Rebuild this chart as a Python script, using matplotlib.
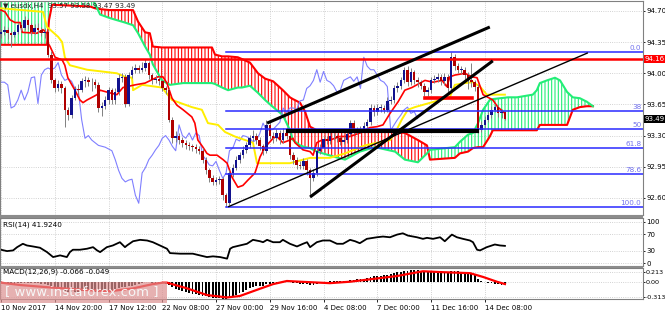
# eusdx H4 chart with ichimoku, fibo levels, RSI and MACD panels
import numpy as np
import matplotlib
matplotlib.use("Agg")
import matplotlib.pyplot as plt
import matplotlib.transforms as mtransforms
from matplotlib.patches import Rectangle

plt.rcParams['font.family'] = 'DejaVu Sans'
plt.rcParams['hatch.linewidth'] = 0.8

# ---------- DATA ------------
first_open = 94.44
close = [94.46, 94.49, 94.45, 94.43, 94.46, 94.54, 94.51, 94.60, 94.54, 94.46,
         94.51, 94.49, 94.45, 94.46, 94.21, 93.92, 93.83, 93.88, 93.83, 93.59,
         93.53, 93.72, 93.82, 93.81, 93.91, 93.92, 93.90, 93.90, 93.87, 93.61,
         93.63, 93.70, 93.81, 93.70, 93.79, 93.95, 93.96, 93.66, 93.98, 94.04,
         94.06, 94.04, 94.06, 94.12, 93.98, 93.92, 93.94, 93.91, 93.83, 93.81,
         93.48, 93.27, 93.30, 93.25, 93.22, 93.19, 93.18, 93.17, 93.15, 93.13,
         93.03, 92.91, 92.82, 92.78, 92.80, 92.81, 92.63, 92.54, 92.88, 92.94,
         93.03, 93.08, 93.14, 93.19, 93.27, 93.30, 93.25, 93.18, 93.13, 93.42,
         93.30, 93.27, 93.33, 93.25, 93.33, 93.30, 93.08, 93.03, 92.97, 92.96,
         93.01, 92.91, 92.82, 92.88, 93.13, 93.16, 93.26, 93.24, 93.30, 93.29,
         93.27, 93.23, 93.25, 93.32, 93.44, 93.36, 93.36, 93.37, 93.41, 93.45,
         93.61, 93.56, 93.61, 93.61, 93.59, 93.69, 93.70, 93.83, 93.86, 93.92,
         94.04, 93.90, 94.02, 93.92, 93.90, 93.86, 93.79, 93.81, 93.92, 93.94,
         93.96, 93.91, 93.96, 93.83, 94.18, 94.08, 94.04, 94.04, 93.98, 93.92,
         93.90, 93.85, 93.36, 93.42, 93.48, 93.53, 93.59, 93.62, 93.55, 93.57,
         93.49]
high = [94.50, 94.53, 94.52, 94.48, 94.49, 94.57, 94.58, 94.64, 94.62, 94.56,
        94.55, 94.56, 94.52, 94.51, 94.50, 94.25, 93.95, 93.92, 93.91, 93.86,
        93.62, 93.76, 93.86, 93.88, 93.95, 93.97, 93.96, 93.95, 93.94, 93.90,
        93.68, 93.74, 93.85, 93.84, 93.83, 93.99, 94.00, 93.99, 94.01, 94.08,
        94.10, 94.09, 94.13, 94.16, 94.14, 94.00, 93.98, 93.97, 93.93, 93.86,
        93.84, 93.51, 93.35, 93.33, 93.28, 93.25, 93.23, 93.21, 93.20, 93.18,
        93.16, 93.06, 92.94, 92.86, 92.84, 92.85, 92.84, 92.66, 92.91, 92.98,
        93.07, 93.12, 93.18, 93.23, 93.31, 93.36, 93.33, 93.28, 93.21, 93.47,
        93.45, 93.34, 93.37, 93.36, 93.38, 93.40, 93.33, 93.12, 93.06, 93.01,
        93.05, 93.04, 92.94, 92.92, 93.16, 93.20, 93.30, 93.29, 93.34, 93.33,
        93.32, 93.30, 93.29, 93.36, 93.48, 93.47, 93.40, 93.41, 93.45, 93.49,
        93.66, 93.64, 93.65, 93.65, 93.64, 93.73, 93.75, 93.87, 93.90, 93.96,
        94.07, 94.08, 94.06, 94.04, 93.96, 93.93, 93.89, 93.85, 93.96, 93.98,
        94.00, 93.99, 94.00, 93.99, 94.24, 94.22, 94.11, 94.08, 94.07, 94.02,
        94.12, 93.93, 93.88, 93.46, 93.52, 93.57, 93.63, 93.66, 93.64, 93.60,
        93.58]
low = [94.40, 94.43, 94.38, 94.30, 94.41, 94.44, 94.48, 94.49, 94.50, 94.43,
       94.44, 94.45, 94.42, 94.40, 94.18, 93.89, 93.79, 93.80, 93.78, 93.40,
       93.48, 93.50, 93.70, 93.76, 93.79, 93.85, 93.86, 93.80, 93.83, 93.56,
       93.52, 93.60, 93.66, 93.65, 93.66, 93.76, 93.90, 93.62, 93.63, 93.95,
       94.00, 94.00, 94.01, 94.03, 93.94, 93.88, 93.89, 93.87, 93.80, 93.77,
       93.45, 93.22, 93.23, 93.20, 93.17, 93.15, 93.14, 93.13, 93.11, 93.09,
       92.99, 92.87, 92.78, 92.74, 92.75, 92.76, 92.58, 92.50, 92.52, 92.84,
       92.91, 92.99, 93.05, 93.10, 93.16, 93.24, 93.20, 93.14, 93.08, 93.10,
       93.26, 93.22, 93.24, 93.21, 93.22, 93.26, 93.04, 92.98, 92.93, 92.92,
       92.93, 92.86, 92.61, 92.79, 92.85, 93.09, 93.12, 93.20, 93.21, 93.25,
       93.23, 93.19, 93.20, 93.22, 93.29, 93.32, 93.32, 93.33, 93.34, 93.38,
       93.42, 93.52, 93.53, 93.57, 93.55, 93.56, 93.65, 93.67, 93.79, 93.82,
       93.89, 93.86, 93.87, 93.88, 93.85, 93.82, 93.74, 93.75, 93.78, 93.89,
       93.90, 93.87, 93.87, 93.78, 93.80, 94.04, 94.00, 93.99, 93.94, 93.82,
       93.85, 93.80, 93.33, 93.34, 93.39, 93.45, 93.50, 93.56, 93.51, 93.50,
       93.47]

# ichimoku lines, vertices as (bar, price)
tenkan_bar = [0, 1.2, 2.7, 4.2, 5.7, 6.3, 10.7, 12.5, 13.7, 14.0, 14.6, 16.1, 18.2, 19.0, 19.9,
              21.1, 22.0, 23.5, 24.4, 25.6, 28.6, 29.5, 32.4, 34.5, 36.3, 39.9, 42.9, 46.7,
              48.2, 49.4, 50.9, 52.4, 54.2, 56.8, 57.7, 58.6, 60.1, 61.3, 62.2, 64.3, 66.1,
              67.3, 68.8, 70.5, 72.0, 73.5, 75.6, 76.2, 77.1, 78.6, 81.0, 82.1, 83.9, 86.0,
              86.9, 87.5, 89.9, 92.0, 92.9, 94.0, 95.5, 97.9, 100.9, 103.9, 106.8, 109.8,
              111.9, 113.7, 115.8, 118.2, 120.2, 122.3, 126.2, 128.6, 131.3, 132.7, 133.6,
              135.1, 138.1, 140.2, 141.7, 143.5, 146.4, 147.9, 150.0]
tenkan = [94.71, 94.69, 94.60, 94.57, 94.57, 94.46, 94.45, 94.49, 94.45, 94.34, 94.30, 94.18,
          94.15, 94.09, 93.95, 93.87, 93.81, 93.70, 93.67, 93.70, 93.76, 93.81, 93.78, 93.76,
          93.84, 93.87, 93.89, 93.96, 93.96, 93.89, 93.72, 93.64, 93.59, 93.51, 93.44, 93.25,
          93.17, 93.10, 93.08, 93.08, 93.03, 92.99, 92.83, 92.72, 92.74, 92.80, 92.88, 92.95,
          93.06, 93.17, 93.27, 93.29, 93.22, 93.25, 93.27, 93.22, 93.14, 93.12, 93.08, 93.22,
          93.25, 93.25, 93.29, 93.29, 93.33, 93.39, 93.40, 93.42, 93.55, 93.68, 93.81, 93.84,
          93.92, 93.90, 93.92, 93.85, 93.96, 93.98, 94.00, 93.96, 93.95, 93.76, 93.70, 93.62,
          93.55]
kijun_bar = [0, 12.5, 13.7, 15.5, 17.0, 18.2, 19.0, 20.5, 25.6, 34.5, 36.9, 39.0, 39.3, 42.0,
             47.9, 50.9, 56.8, 59.8, 61.6, 64.6, 66.7, 69.6, 75.0, 76.2, 86.0, 92.0, 97.9,
             102.4, 108.3, 115.8, 117.3, 119.3, 121.1, 123.2, 130.7, 133.6, 135.1, 138.1,
             140.5, 142.6, 144.6, 150.0]
kijun = [94.73, 94.69, 94.52, 94.46, 94.41, 94.35, 94.18, 94.09, 94.04, 94.00, 93.96, 93.95,
         93.81, 93.87, 93.84, 93.70, 93.62, 93.59, 93.44, 93.42, 93.34, 93.29, 93.22, 92.99,
         92.99, 93.05, 93.05, 93.10, 93.19, 93.25, 93.33, 93.48, 93.59, 93.62, 93.70, 93.73,
         93.87, 93.89, 93.90, 93.85, 93.76, 93.76]
cloud_bar = [-1, 13.7, 14.3, 15.2, 26.5, 28.0, 29.5, 32.4, 36.9, 39.3, 40.8, 42.9, 44.3, 45.2,
             47.9, 50.3, 54.2, 62.8, 63.7, 65.8, 67.6, 70.5, 71.7, 74.1, 76.5, 78.6, 81.0,
             83.9, 86.0, 86.9, 89.0, 90.5, 92.0, 94.0, 99.4, 102.4, 106.8, 111.3, 117.3,
             120.2, 124.1, 126.8, 127.7, 135.1, 136.6, 139.0, 140.5, 142.0, 143.5, 145.5,
             146.4, 150.9, 153.6, 158.3, 159.5, 160.4, 162.5, 164.9, 166.4, 168.5, 170.2,
             172.3, 174.4, 176.2]
span_a = [94.88, 94.88, 94.88, 94.88, 94.88, 94.78, 94.66, 94.62, 94.57, 94.54, 94.45, 94.30,
          94.21, 94.10, 93.92, 93.87, 93.89, 93.89, 93.88, 93.84, 93.81, 93.84, 93.84, 93.86,
          93.78, 93.70, 93.62, 93.53, 93.36, 93.25, 93.19, 93.17, 93.16, 93.12, 93.06, 93.03,
          93.12, 93.17, 93.12, 93.03, 93.00, 93.10, 93.14, 93.17, 93.23, 93.31, 93.33, 93.44,
          93.59, 93.70, 93.71, 93.73, 93.73, 93.76, 93.81, 93.89, 93.92, 93.95, 93.92, 93.79,
          93.73, 93.72, 93.68, 93.63]
span_b = [94.32, 94.32, 94.60, 94.77, 94.75, 94.73, 94.72, 94.71, 94.71, 94.71, 94.58, 94.46,
          94.45, 94.30, 94.29, 94.29, 94.29, 94.29, 94.21, 94.19, 94.19, 94.18, 94.16, 94.12,
          94.00, 93.94, 93.91, 93.81, 93.73, 93.71, 93.67, 93.57, 93.40, 93.36, 93.36, 93.36,
          93.36, 93.36, 93.34, 93.33, 93.25, 93.19, 93.03, 93.05, 93.10, 93.12, 93.16, 93.17,
          93.17, 93.29, 93.36, 93.36, 93.36, 93.36, 93.36, 93.42, 93.42, 93.42, 93.42, 93.42,
          93.59, 93.62, 93.63, 93.63]
chikou_shift = 26

# drawn objects
fib_start = 67
fib_levels = [94.24, 93.575, 93.37, 93.165, 92.87, 92.50]
fib_names = ["0.0", "38", "50", "61.8", "78.6", "100.0"]
level_red = 94.16
support_bars = [85.4, 141.7]
support_price = 93.35
red_zone_bars = [126.2, 140.2]
red_zone_price = 93.72
trend_bars = [(79.2, 145.5), (92.0, 146.4), (67.6, 174.7)]
trend_prices = [(93.44, 94.52), (92.61, 94.14), (92.50, 94.23)]
trend_widths = [2.2, 2.2, 1.0]

price_ticks = [94.70, 94.35, 94.00, 93.65, 93.30, 92.95, 92.60]
last_price = 93.49

# RSI (bar, value)
rsi_bar = [0, 1.8, 3.6, 4.8, 6.5, 7.7, 9.5, 11.6, 13.7, 15.5, 17.6, 19.6, 20.5, 21.4, 23.5,
           25.6, 27.4, 28.6, 29.5, 31.5, 33.3, 35.4, 36.9, 37.5, 39.3, 41.4, 43.5, 45.2, 47.3,
           49.4, 50.3, 53.3, 57.1, 59.2, 61.3, 63.1, 65.2, 67.3, 68.2, 69.0, 71.1, 73.2, 75.0,
           77.1, 78.0, 79.2, 81.0, 83.0, 83.9, 86.0, 88.1, 89.9, 91.1, 92.0, 94.0, 95.8, 97.9,
           100.0, 101.8, 103.9, 105.4, 106.8, 108.9, 111.9, 113.7, 115.8, 117.9, 119.6, 121.1,
           123.8, 125.6, 126.8, 128.6, 130.7, 132.1, 134.2, 135.7, 137.5, 139.6, 140.5, 141.7,
           142.6, 144.6, 147.0, 148.5, 150]
rsi_val = [32.6, 29.3, 31.0, 38.8, 46.9, 42.9, 40.5, 37.4, 26.9, 15.0, 19.0, 15.0, 26.9, 32.6,
           32.6, 35.0, 38.8, 31.0, 26.9, 38.8, 42.9, 50.7, 38.8, 42.9, 53.0, 56.4, 54.8, 50.7,
           42.9, 35.0, 24.5, 23.1, 23.1, 19.0, 15.0, 16.7, 15.0, 11.2, 35.0, 38.8, 42.9, 46.9,
           56.4, 53.0, 50.7, 56.4, 50.7, 50.7, 56.4, 46.9, 40.5, 46.9, 50.7, 38.8, 50.7, 54.8,
           54.8, 46.9, 46.9, 56.4, 53.0, 48.3, 58.8, 62.6, 64.3, 62.6, 69.0, 72.1, 66.7, 62.6,
           58.8, 61.2, 58.8, 62.6, 53.0, 69.0, 62.6, 58.8, 54.8, 50.7, 32.6, 31.0, 38.8, 45.2,
           42.9, 41.9]

# MACD histogram per bar, signal as (bar, value)
macd_hist = [-0.03, -0.03, -0.04, -0.04, -0.04, -0.03, -0.03, -0.02, -0.02, -0.03, -0.03,
             -0.03, -0.04, -0.04, -0.06, -0.09, -0.11,
             -0.14, -0.16, -0.19, -0.21, -0.22, -0.22, -0.21, -0.20, -0.19, -0.19, -0.19,
             -0.21, -0.21, -0.20, -0.19, -0.18,
             -0.17, -0.16, -0.14, -0.12, -0.12, -0.10, -0.08, -0.06, -0.04, -0.03, -0.01,
             -0.01, -0.02, -0.02, -0.03, -0.03, -0.04,
             -0.07, -0.12, -0.15, -0.18, -0.20, -0.22, -0.24, -0.25, -0.26, -0.27, -0.29,
             -0.31, -0.33, -0.34, -0.35, -0.35, -0.36, -0.37,
             -0.33, -0.30, -0.27, -0.24, -0.21, -0.18, -0.14, -0.11, -0.10, -0.09, -0.09, -0.05,
             -0.04, -0.03, -0.02, -0.02, -0.01, 0.00, -0.01, -0.02, -0.03, -0.04, -0.04, -0.05,
             -0.06, -0.06, -0.04, -0.03, -0.01, 0.00,
             0.01, 0.01, 0.01, 0.01, 0.01, 0.02, 0.04, 0.04, 0.05, 0.05, 0.06, 0.07, 0.10,
             0.11, 0.12, 0.13, 0.14, 0.15, 0.16, 0.18, 0.20, 0.21, 0.23, 0.23, 0.24, 0.24, 0.24,
             0.23, 0.22, 0.22, 0.22,
             0.22, 0.22, 0.22, 0.21, 0.20, 0.22, 0.22, 0.22, 0.21, 0.20, 0.19, 0.18, 0.16,
             0.06, 0.02, -0.01, -0.02, -0.03, -0.04, -0.05, -0.06, -0.066]
signal_bar = [0, 5.7, 14.6, 24.4, 32.4, 39.3, 45.2, 48.2, 49.4, 55.4, 61.3, 67.3, 71.1, 76.2,
              81.0, 85.1, 89.0, 97.9, 103.9, 109.8, 117.9, 125.6, 131.5, 139.6, 143.5, 147.6, 150]
signal_val = [-0.02, -0.07, -0.12, -0.17, -0.20, -0.14, -0.05, -0.02, -0.02, -0.14, -0.28,
              -0.33, -0.30, -0.17, -0.05, 0.015, 0.0, -0.03, 0.0, 0.05, 0.12, 0.22, 0.20, 0.18,
              0.10, 0.0, -0.049]

time_tick_bars = [0, 16, 32, 48, 64, 80, 96, 112, 128, 144]
time_labels = ["10 Nov 2017", "14 Nov 20:00", "17 Nov 12:00", "22 Nov 08:00", "27 Nov 00:00",
               "29 Nov 16:00", "4 Dec 08:00", "7 Dec 00:00", "11 Dec 16:00", "14 Dec 08:00"]
# ------------------------------

W, H = 665.0, 312.0
fig = plt.figure(figsize=(W / 100, H / 100), dpi=100)
fig.patch.set_facecolor('white')
ax = fig.add_axes([0, 1 - 215 / H, 643 / W, 214 / H])
ax_rsi = fig.add_axes([0, 1 - 266 / H, 643 / W, 48 / H])
ax_macd = fig.add_axes([0, 1 - 299 / H, 643 / W, 31 / H])

n = len(close)
bars = np.arange(n)
c = np.array(close)
o = np.array([first_open] + close[:-1])
hi = np.array(high)
lo = np.array(low)

RED = '#ff0000'
GREEN = '#22ee77'
LAB = 5.0

# cloud
cb = np.array(cloud_bar)
sa = np.array(span_a)
sb = np.array(span_b)
ax.fill_between(cb, sa, sb, where=sb >= sa, interpolate=True, facecolor='none',
                edgecolor=RED, hatch='|||||', linewidth=0, zorder=1)
ax.fill_between(cb, sa, sb, where=sa >= sb, interpolate=True, facecolor='none',
                edgecolor=GREEN, hatch='|||||', linewidth=0, zorder=1)
ax.plot(cb, sb, color=RED, lw=1.5, zorder=2)
ax.plot(cb, sa, color=GREEN, lw=1.5, zorder=2)

# chikou, kijun, tenkan
ax.plot(bars - chikou_shift, c, color='#7f7fff', lw=0.8, zorder=2)
ax.plot(kijun_bar, kijun, color='#ffee00', lw=1.4, zorder=3)
ax.plot(tenkan_bar, tenkan, color=RED, lw=1.2, zorder=3)

# candles
ax.vlines(bars, lo, hi, color='#808080', lw=0.7, zorder=4)
body = np.maximum(np.abs(c - o), 0.006)
bottom = np.minimum(o, c)
up = c >= o
ax.bar(bars[up], body[up], bottom=bottom[up], width=0.75, color='#12128e', zorder=5)
ax.bar(bars[~up], body[~up], bottom=bottom[~up], width=0.75, color='#b00000', zorder=5)

# objects
for lvl, name in zip(fib_levels, fib_names):
    ax.plot([fib_start, 191.1], [lvl, lvl], color='#2a2aff', lw=1.1, zorder=6)
    ax.text(190.6, lvl + 0.012, name, ha='right', va='bottom', fontsize=5.2,
            color='#7373ee', zorder=7)
ax.axhline(level_red, color=RED, lw=1.8, zorder=6)
ax.plot(support_bars, [support_price] * 2, color='black', lw=3, zorder=6)
ax.plot(red_zone_bars, [red_zone_price] * 2, color=RED, lw=2.6, zorder=6)
for (b0, b1), (p0, p1), w in zip(trend_bars, trend_prices, trend_widths):
    ax.plot([b0, b1], [p0, p1], color='black', lw=w, zorder=7, solid_capstyle='butt')

xlim = (-0.3, 191.1)
for a in (ax, ax_rsi, ax_macd):
    a.set_xlim(*xlim)
    a.set_xticks(time_tick_bars)
    a.yaxis.tick_right()
    a.tick_params(axis='y', labelsize=LAB, length=1.5, width=0.6, pad=0.8, colors='black')
    a.tick_params(axis='x', length=0, labelbottom=False)
    a.grid(True, ls=':', lw=0.6, color='#c4c4c4')
    a.set_axisbelow(True)
    for s in a.spines.values():
        s.set_color('#808080')
        s.set_linewidth(0.8)

ax.set_ylim(92.408, 94.812)
ax.set_yticks(price_ticks)
ax.set_yticklabels([f"{p:.2f}" for p in price_ticks])

bt = mtransforms.blended_transform_factory(ax.transAxes, ax.transData)
ax.text(1.003, level_red, f"{level_red:.2f}", transform=bt, fontsize=LAB, color='white',
        va='center', ha='left', zorder=10, clip_on=False,
        bbox=dict(boxstyle='square,pad=0.12', fc=RED, ec='none'))
ax.text(1.003, last_price, f"{last_price:.2f}", transform=bt, fontsize=LAB, color='white',
        va='center', ha='left', zorder=10, clip_on=False,
        bbox=dict(boxstyle='square,pad=0.12', fc='black', ec='none'))
ax.text(0.004, 0.99, "\u25bc eusdx,H4  93.57 93.58 93.47 93.49", transform=ax.transAxes,
        fontsize=5.0, va='top', ha='left', color='#222222', zorder=10)

# RSI
ax_rsi.plot(rsi_bar, rsi_val, color='black', lw=1.3)
ax_rsi.set_ylim(-6.5, 108.9)
ax_rsi.set_yticks([100, 70, 30, 0])
ax_rsi.set_yticklabels(["100", "70", "30", "0"])
ax_rsi.text(0.004, 0.93, "RSI(14) 41.9240", transform=ax_rsi.transAxes, fontsize=5.2,
            va='top', ha='left')

# MACD
ax_macd.bar(bars, macd_hist, width=0.55, color='black')
ax_macd.plot(signal_bar, signal_val, color=RED, lw=1.6)
ax_macd.set_ylim(-0.363, 0.288)
ax_macd.set_yticks([0.213, 0.0, -0.313])
ax_macd.set_yticklabels(["0.213", "0.00", "-0.313"])
ax_macd.tick_params(axis='y', labelsize=4.6, pad=0.5)
ax_macd.text(0.004, 0.97, "MACD(12,26,9) -0.066 -0.049", transform=ax_macd.transAxes,
             fontsize=5.2, va='top', ha='left')
ax_macd.tick_params(axis='x', length=2.5, width=0.6, labelbottom=True, labelsize=LAB, pad=1.5)
ax_macd.set_xticklabels(time_labels)
for lab in ax_macd.get_xticklabels():
    lab.set_ha('left')

# panel separators
for y0, y1 in [(215, 218), (266, 268)]:
    fig.patches.append(Rectangle((0, 1 - y1 / H), 643 / W, (y1 - y0) / H,
                                 transform=fig.transFigure, fc='#8c8c8c', ec='none', zorder=2))

# watermark
fig.patches.append(Rectangle((0, 1 - 303 / H), 167 / W, 21 / H, transform=fig.transFigure,
                             fc='#dc9090', alpha=0.7, ec='none', zorder=2))
fig.text(82 / W, 1 - 292 / H, "[ www.instaforex.com ]", fontsize=9.5, color='#f6f6f6',
         ha='center', va='center', zorder=3)

fig.savefig("out.png", dpi=100)
